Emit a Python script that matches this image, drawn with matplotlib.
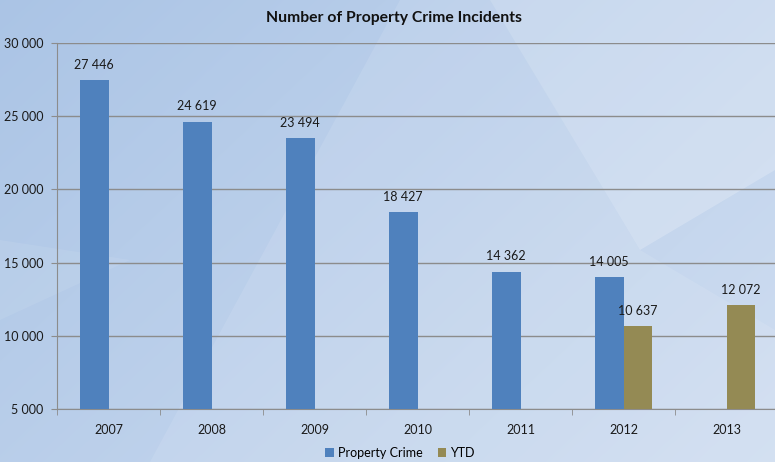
import numpy as np
import matplotlib.pyplot as plt
from matplotlib.patches import Polygon
from matplotlib.ticker import FuncFormatter

plt.rcParams['font.family'] = ['Lato', 'DejaVu Sans']

years = ['2007', '2008', '2009', '2010', '2011', '2012', '2013']
property_crime = [27446, 24619, 23494, 18427, 14362, 14005, None]
ytd = [None, None, None, None, None, 10637, 12072]

blue = '#4F81BD'
olive = '#948A54'

def spaced(v, pos=None):
    return '{:,}'.format(int(v)).replace(',', ' ')

fig = plt.figure(figsize=(7.75, 4.62), dpi=100)

# soft blue backdrop with a few pale diagonal streaks
bg = fig.add_axes([0, 0, 1, 1], zorder=-10)
h, w = 462, 775
yy, xx = np.mgrid[0:h, 0:w]
t = np.clip((xx / w) * 0.55 + (yy / h) * 0.35, 0, 1)
c0 = np.array([0.67, 0.77, 0.90])
c1 = np.array([0.83, 0.88, 0.95])
img = c0[None, None, :] * (1 - t[..., None]) + c1[None, None, :] * t[..., None]
bg.imshow(img, extent=[0, w, h, 0], aspect='auto')
bg.add_patch(Polygon([[490, 0], [775, 0], [775, 170], [640, 250]], closed=True,
                     color='white', alpha=0.22, lw=0))
bg.add_patch(Polygon([[400, 0], [490, 0], [640, 250], [775, 330], [775, 462], [150, 462]],
                     closed=True, color='white', alpha=0.1, lw=0))
bg.add_patch(Polygon([[0, 240], [130, 260], [0, 320]], closed=True,
                     color='white', alpha=0.08, lw=0))
bg.set_xlim(0, w)
bg.set_ylim(h, 0)
bg.axis('off')

ax = fig.add_axes([57 / 775, 1 - 409 / 462, 721 / 775, 366 / 462])
ax.set_facecolor('none')

x = np.arange(len(years))
bw = 0.28
pc = [v if v is not None else 0 for v in property_crime]
yd = [v if v is not None else 0 for v in ytd]
ax.bar(x - bw / 2, pc, bw, color=blue, label='Property Crime', zorder=3)
ax.bar(x + bw / 2, yd, bw, color=olive, label='YTD', zorder=3)

for i in range(len(years)):
    if property_crime[i] is not None:
        ax.text(x[i] - bw / 2, property_crime[i] + 650, spaced(property_crime[i]),
                ha='center', va='bottom', fontsize=9, color='#1a1a1a')
    if ytd[i] is not None:
        ax.text(x[i] + bw / 2, ytd[i] + 650, spaced(ytd[i]),
                ha='center', va='bottom', fontsize=9, color='#1a1a1a')

ax.set_xlim(-0.5, len(years) - 0.5)
ax.set_ylim(5000, 30000)
ax.set_yticks(range(5000, 30001, 5000))
ax.yaxis.set_major_formatter(FuncFormatter(spaced))
ax.set_xticks(x)
ax.set_xticklabels(years)
ax.set_xticks(np.arange(-0.5, len(years), 1), minor=True)
ax.tick_params(axis='x', which='major', length=0, pad=11, labelsize=9, labelcolor='#1a1a1a')
ax.tick_params(axis='x', which='minor', length=4, color='#8c8c8c')
ax.tick_params(axis='y', length=4, color='#8c8c8c', labelsize=9, labelcolor='#1a1a1a', pad=6)
ax.grid(axis='y', color='#8c8c8c', lw=1, zorder=0)
for s in ['top', 'right']:
    ax.spines[s].set_visible(False)
for s in ['left', 'bottom']:
    ax.spines[s].set_color('#8c8c8c')

fig.text(394 / 775, 1 - 18 / 462, 'Number of Property Crime Incidents',
         ha='center', va='center', fontsize=11.3, fontweight='bold', color='#111111')

fig.legend(loc='center', bbox_to_anchor=(400 / 775, 1 - 453 / 462), ncol=2,
           frameon=False, fontsize=9, handlelength=0.7, handleheight=0.7,
           handletextpad=0.3, columnspacing=1.2)

fig.savefig('out.png', dpi=100)
